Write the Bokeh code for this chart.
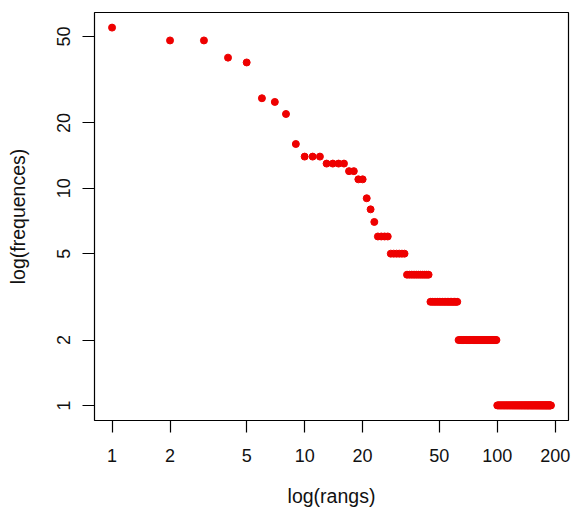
import math
from bokeh.plotting import figure
from bokeh.models import Range1d, FixedTicker, PrintfTickFormatter, ColumnDataSource
from bokeh.embed import file_html
from bokeh.resources import INLINE

# rank-frequency data (frequency of each rank, ranks 1..190)
freq_groups = [
    (55, 1), (48, 2), (40, 1), (38, 1), (26, 1), (25, 1), (22, 1), (16, 1),
    (14, 3), (13, 4), (12, 2), (11, 2), (9, 1), (8, 1), (7, 1), (6, 4),
    (5, 6), (4, 11), (3, 18), (2, 37), (1, 91),
]
frequences = []
for f, n in freq_groups:
    frequences.extend([f] * n)
rangs = list(range(1, len(frequences) + 1))

x_ticks = [1, 2, 5, 10, 20, 50, 100, 200]
y_ticks = [1, 2, 5, 10, 20, 50]

lx0, lx1 = math.log10(min(rangs)), math.log10(max(rangs))
ly0, ly1 = math.log10(min(frequences)), math.log10(max(frequences))
dx = 0.04 * (lx1 - lx0)
dy = 0.04 * (ly1 - ly0)

p = figure(width=572, height=512, x_axis_type="log", y_axis_type="log",
           x_range=Range1d(10 ** (lx0 - dx), 10 ** (lx1 + dx)),
           y_range=Range1d(10 ** (ly0 - dy), 10 ** (ly1 + dy)),
           output_backend="svg", toolbar_location=None,
           min_border_left=94, min_border_right=4, min_border_top=12, min_border_bottom=92,
           x_axis_label="log(rangs)", y_axis_label="log(frequences)")

src = ColumnDataSource(dict(x=rangs, y=frequences))
p.scatter("x", "y", source=src, size=7, fill_color="#ee0000", line_color="#ee0000")

p.xgrid.visible = False
p.ygrid.visible = False
p.outline_line_color = "black"
p.outline_line_width = 1.2
p.background_fill_color = "white"
p.border_fill_color = "white"

p.xaxis.ticker = FixedTicker(ticks=x_ticks)
p.yaxis.ticker = FixedTicker(ticks=y_ticks)
for ax in (p.xaxis, p.yaxis):
    ax.formatter = PrintfTickFormatter(format="%d")
    ax.axis_line_color = None
    ax.major_tick_out = 12
    ax.major_tick_in = 0
    ax.minor_tick_line_color = None
    ax.major_tick_line_color = "black"
    ax.major_tick_line_width = 1.2
    ax.major_label_text_font = "Liberation Sans"
    ax.major_label_text_font_size = "18px"
    ax.major_label_text_color = "#111111"
    ax.axis_label_text_font = "Liberation Sans"
    ax.axis_label_text_font_size = "19.5px"
    ax.axis_label_text_font_style = "normal"
    ax.axis_label_text_color = "#111111"

p.xaxis.major_label_standoff = 16
p.xaxis.axis_label_standoff = 20
p.yaxis.major_label_orientation = "vertical"
p.yaxis.major_label_standoff = 12
p.yaxis.axis_label_standoff = 26

open("out.html", "w").write(file_html(p, INLINE))
